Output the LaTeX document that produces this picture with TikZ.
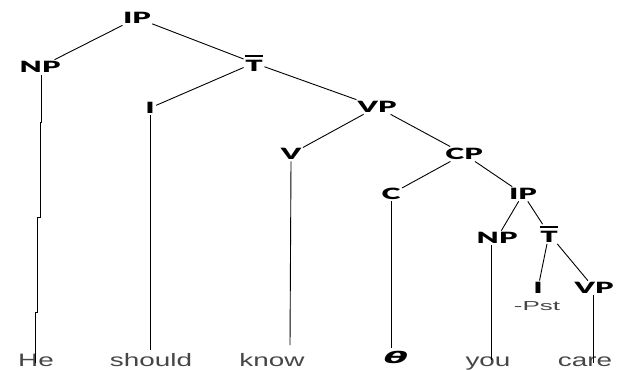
\documentclass[tikz,border=0pt]{standalone}
\usepackage{fontspec}
\newfontfamily\labfont[FakeStretch=1.85,UprightFont={* Black}]{Lato}
\newfontfamily\leaffont[FakeStretch=1.55]{Liberation Sans}
\newfontfamily\pstfont[FakeStretch=2.0]{Liberation Sans}
\newfontfamily\thfont[FakeStretch=2.2,UprightFont={* Bold Oblique}]{DejaVu Sans}
\definecolor{leafgray}{RGB}{70,70,70}
\begin{document}
\begin{tikzpicture}[x=1pt,y=-1pt,
  lab/.style={inner sep=1.5pt, font=\labfont\fontsize{15.5}{15.5}\selectfont, text=black},
  leaf/.style={inner sep=0pt, anchor=base, font=\leaffont\fontsize{18}{18}\selectfont, text=leafgray},
  branch/.style={draw=black, line width=0.9pt}]
\useasboundingbox (0,0) rectangle (620,369);
\newcommand{\tbar}{\vbox{\hrule height 2pt\kern3pt\hbox{T}}}
% phrase labels
\node[lab] (ip1) at (137,18) {IP};
\node[lab] (np1) at (40,67) {NP};
\node[lab] (t1) at (254,63) {\tbar};
\node[lab] (i1) at (150,108) {I};
\node[lab] (vp1) at (377,107) {VP};
\node[lab] (v1) at (291,154) {V};
\node[lab] (cp) at (464,154) {CP};
\node[lab] (c) at (391,194) {C};
\node[lab] (ip2) at (523,194) {IP};
\node[lab] (np2) at (497,238) {NP};
\node[lab] (t2) at (549,234) {\tbar};
\node[lab] (i2) at (538,288) {I};
\node[lab] (vp2) at (594,288) {VP};
\node[inner sep=0pt, font=\pstfont\fontsize{13}{13}\selectfont, text=leafgray] (pst) at (537,306) {-Pst};
% leaves
\node[leaf] (he) at (36,366) {He};
\node[leaf] (should) at (151,366) {should};
\node[leaf] (know) at (272,366) {know};
\node[inner sep=0pt, font=\thfont\fontsize{16}{16}\selectfont] (theta) at (396,357) {θ};
\node[leaf] (you) at (488,366) {you};
\node[leaf] (care) at (585,366) {care};
% free line ends
\coordinate (j1a) at (41,122); \coordinate (j1b) at (40,122);
\coordinate (j2a) at (40,217); \coordinate (j2b) at (37,217);
\coordinate (j3a) at (37,312); \coordinate (j3b) at (35,312);
\coordinate (heend) at (35,363);
\coordinate (npstart) at (41,75);
\coordinate (shouldend) at (150,350);
\coordinate (knowend) at (290,345);
\coordinate (cend) at (391,348);
\coordinate (youend) at (491,360);
\coordinate (careend) at (593,363);
% branches
\draw[branch] (ip1) -- (np1);
\draw[branch] (ip1) -- (t1);
\draw[branch] (t1) -- (i1);
\draw[branch] (t1) -- (vp1);
\draw[branch] (vp1) -- (v1);
\draw[branch] (vp1) -- (cp);
\draw[branch] (cp) -- (c);
\draw[branch] (cp) -- (ip2);
\draw[branch] (ip2) -- (np2);
\draw[branch] (ip2) -- (t2);
\draw[branch] (t2) -- (i2);
\draw[branch] (t2) -- (vp2);
% vertical lines to words
\draw[branch] (npstart) -- (j1a) -- (j1b) -- (j2a) -- (j2b) -- (j3a) -- (j3b) -- (heend);
\draw[branch] (i1.south) -- (shouldend);
\draw[branch] (v1.south) -- (knowend);
\draw[branch] (c.south) -- (cend);
\draw[branch] (np2.south -| youend) -- (youend);
\draw[branch] (vp2.south -| careend) -- (careend);
\end{tikzpicture}
\end{document}
